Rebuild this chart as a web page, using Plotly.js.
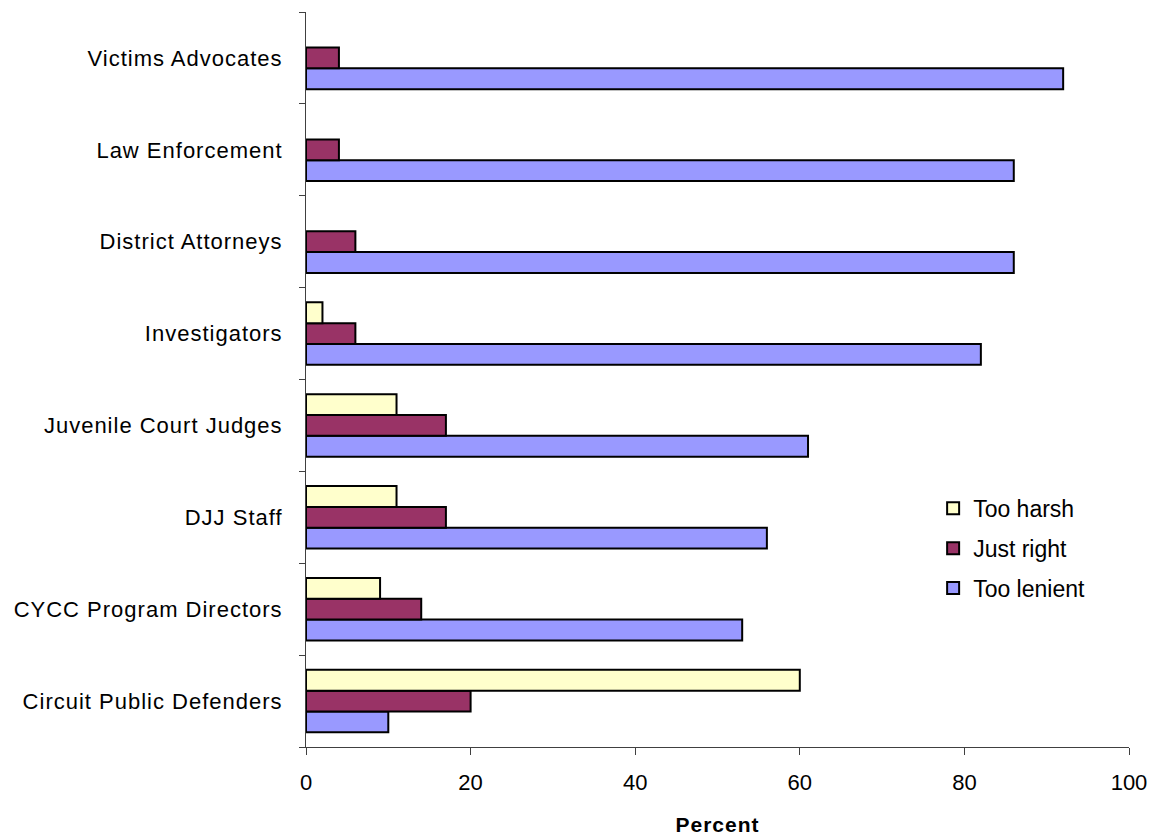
<!DOCTYPE html>
<html>
<head>
<meta charset="utf-8">
<script src="https://cdn.plot.ly/plotly-3.0.1.min.js"></script>
<style>
  html, body { margin: 0; padding: 0; background: #ffffff; }
  #chart { width: 1153px; height: 836px; }
  /* slightly open letterforms for the category labels and axis title */
  #chart .ytick text, #chart .g-xtitle text { letter-spacing: 1px; }
</style>
</head>
<body>
<div id="chart"></div>
<script>
// Respondent groups, listed bottom to top
const groups = [
  "Circuit Public Defenders",
  "CYCC Program Directors",
  "DJJ Staff",
  "Juvenile Court Judges",
  "Investigators",
  "District Attorneys",
  "Law Enforcement",
  "Victims Advocates"
];

// Percent of each group rating sentences as ...
const tooHarsh   = [60, 9, 11, 11, 2, 0, 0, 0];
const justRight  = [20, 14, 17, 17, 6, 6, 4, 4];
const tooLenient = [10, 53, 56, 61, 82, 86, 86, 92];

const xTicks = [0, 20, 40, 60, 80, 100];

const font = "Liberation Sans, Arial, sans-serif";

function series(name, values, color, rank) {
  return {
    type: "bar",
    orientation: "h",
    name: name,
    legendgroup: name,
    legendrank: rank,
    y: groups,
    x: values,
    marker: {
      color: color,
      // empty bars get no outline
      line: { color: "#000000", width: values.map(v => (v > 0 ? 2 : 0)) }
    },
    hoverinfo: "x+y+name"
  };
}

// Drawn bottom-up within each group: lenient, just right, harsh
const data = [
  series("Too lenient", tooLenient, "#9999FF", 3),
  series("Just right", justRight, "#993366", 2),
  series("Too harsh", tooHarsh, "#FFFFCC", 1)
];

const layout = {
  width: 1153,
  height: 836,
  paper_bgcolor: "#ffffff",
  plot_bgcolor: "#ffffff",
  margin: { l: 306, r: 24, t: 12, b: 89 },
  barmode: "group",
  bargap: 0.32,
  bargroupgap: 0,
  font: { family: font, size: 22, color: "#000000" },
  xaxis: {
    range: [0, 100],
    tickvals: xTicks,
    ticktext: xTicks.map(String),
    ticks: "outside",
    ticklen: 7,
    tickwidth: 1,
    tickcolor: "#404040",
    showline: true,
    linecolor: "#404040",
    linewidth: 1,
    showgrid: false,
    zeroline: false,
    ticklabelstandoff: 9,
    tickfont: { family: font, size: 22 },
    automargin: false,
    title: { text: "<b>Percent</b>", font: { family: font, size: 21 }, standoff: 22 }
  },
  yaxis: {
    type: "category",
    ticks: "outside",
    tickson: "boundaries",
    ticklen: 6,
    tickwidth: 1,
    tickcolor: "#404040",
    showline: true,
    linecolor: "#404040",
    linewidth: 1,
    showgrid: false,
    zeroline: false,
    automargin: false,
    ticklabelstandoff: 18,
    tickfont: { family: font, size: 22 }
  },
  legend: {
    x: 0.762,
    y: 0.354,
    xanchor: "left",
    yanchor: "top",
    traceorder: "grouped",
    bgcolor: "rgba(0,0,0,0)",
    font: { family: font, size: 23 },
    tracegroupgap: 7
  },
  showlegend: true
};

Plotly.newPlot("chart", data, layout, { displayModeBar: false, staticPlot: true });
</script>
</body>
</html>
